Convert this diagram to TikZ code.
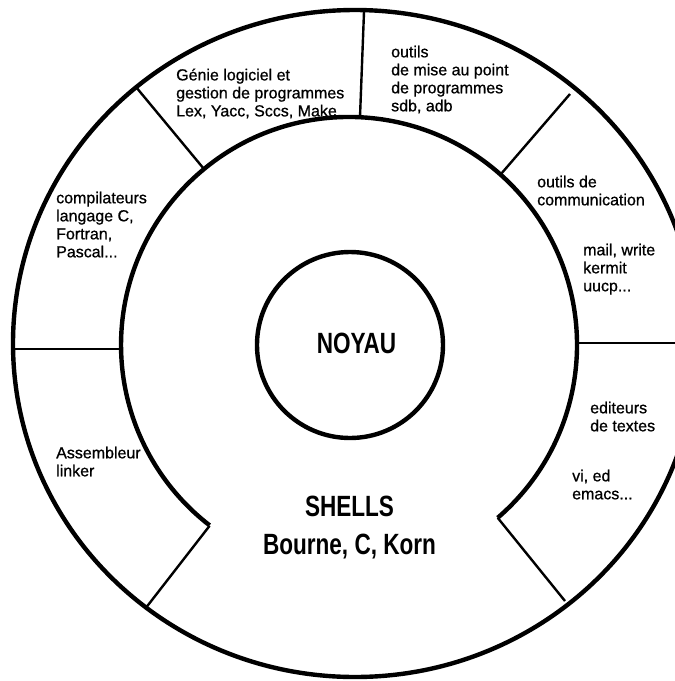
\documentclass[tikz,border=0pt]{standalone}
\usepackage{fontspec}
\setmainfont{Liberation Sans}[FakeBold=0.5]
\newfontfamily\smallfont{Liberation Sans}[FakeBold=0.8]
\newfontfamily\condfont{Liberation Sans}[FakeStretch=0.77]
\tikzset{
  ring/.style={line width=4.4pt},
  divider/.style={line width=2.4pt},
  small/.style={anchor=north west, inner sep=0pt, align=left,
    font=\smallfont\fontsize{16}{18}\selectfont},
  big/.style={inner sep=0pt, align=center,
    font=\condfont\bfseries\fontsize{29.3}{38}\selectfont},
}
\begin{document}
\begin{tikzpicture}[x=1pt,y=-1pt]
\useasboundingbox (0,0) rectangle (675,681);
\begin{scope}
\clip (0,0) rectangle (675,681);
% rings
\draw[ring] (355,343.5) ellipse [x radius=342pt, y radius=333.5pt];
\draw[ring] (350,345) circle [radius=93pt];
\coordinate (arcR) at (497.7,517.8);
\coordinate (arcL) at (209.6,525.8);
\draw[ring] (arcR) arc [start angle=-49.3, end angle=232.3, radius=228pt];
% dividers
\coordinate (o1) at (136,87);   \coordinate (m1) at (204,169);
\coordinate (o2) at (364,12);   \coordinate (m2) at (360,117);
\coordinate (o3) at (570,94);   \coordinate (m3) at (501,174);
\coordinate (o4) at (676,343);  \coordinate (m4) at (577,343);
\coordinate (o5) at (14,349);   \coordinate (m5) at (121,349);
\coordinate (o6) at (145,609);
\coordinate (o7) at (565,601);
\draw[divider] (o1) -- (m1);
\draw[divider] (o2) -- (m2);
\draw[divider] (o3) -- (m3);
\draw[divider] (o4) -- (m4);
\draw[divider] (o5) -- (m5);
\draw[divider] (arcL) -- (o6);
\draw[divider] (arcR) -- (o7);
\end{scope}
% texts
\node[small] (genie) at (176,68.4) {Génie logiciel et\\gestion de programmes\\Lex, Yacc, Sccs, Make};
\node[small] (mise) at (391,45.5) {outils\\de mise au point\\de programmes\\sdb, adb};
\node[small] (comm) at (537,175.5) {outils de\\communication};
\node[small] (mail) at (583,243.5) {mail, write\\kermit\\uucp...};
\node[small] (comp) at (56,191.5) {compilateurs\\langage C,\\Fortran,\\Pascal...};
\node[small] (asm) at (56,446.5) {Assembleur\\linker};
\node[small] (edit) at (590,401.5) {editeurs\\de textes};
\node[small] (vi) at (572,469.5) {vi, ed\\emacs...};
\node[big, anchor=base] (noyau) at (356.5,353) {NOYAU};
\node[big, anchor=north] (shells) at (349.5,495.8) {SHELLS\\Bourne, C, Korn};
\end{tikzpicture}
\end{document}
